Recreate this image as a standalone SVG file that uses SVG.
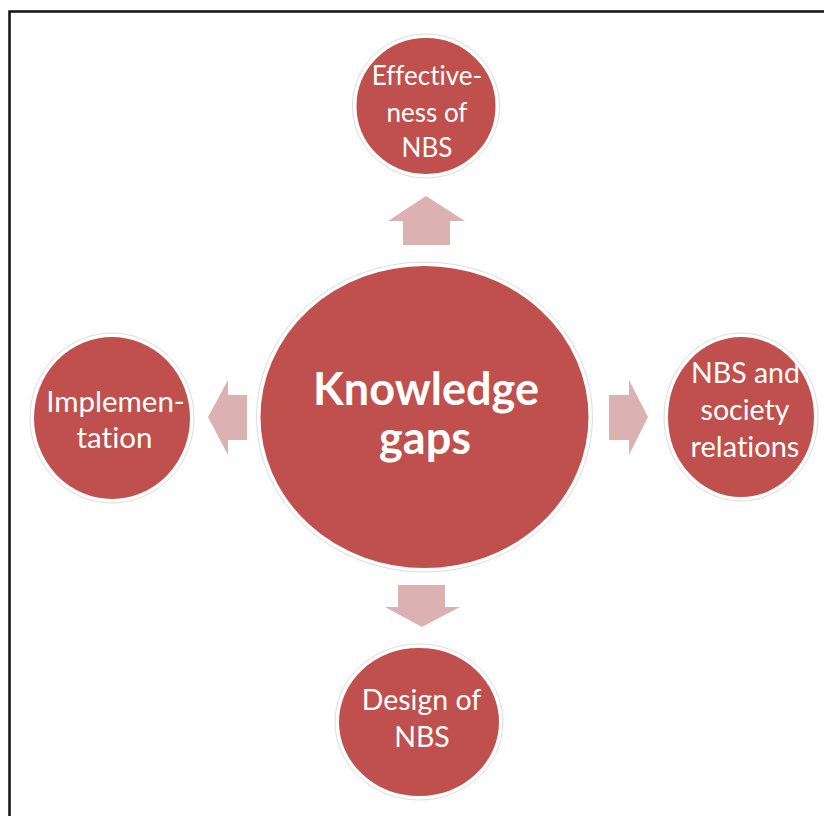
<svg xmlns="http://www.w3.org/2000/svg" width="824" height="816" viewBox="0 0 824 816">
<style>
.node{fill:#C0504D;stroke:#FFFFFF;stroke-width:3}
.halo{fill:none;stroke:#DCDCDC;stroke-width:1}
.arrow{fill:#DBB2B1}
.lbl{font-family:Lato,"Open Sans",sans-serif;font-size:26px;fill:#FFFFFF;text-anchor:middle;font-variant-ligatures:none}
.big{font-family:Lato,"Open Sans",sans-serif;font-size:45px;font-weight:bold;fill:#FFFFFF;text-anchor:middle;font-variant-ligatures:none}
</style>
<rect x="0" y="0" width="824" height="816" fill="#FFFFFF"/>
<path d="M9.5 816 V11.5 H824" fill="none" stroke="#111111" stroke-width="2.5"/>
<g id="connectors">
<polygon class="arrow" points="403,245 403,221 388,221 426,196 465,221 450,221 450,245"/>
<polygon class="arrow" points="247,395 228,395 228,380 208,417 228,455 228,440 247,440"/>
<polygon class="arrow" points="609,395 629,395 629,380 648,417 629,455 629,440 609,440"/>
<polygon class="arrow" points="398,585 445,585 445,607 460,607 422,627 385,607 398,607"/>
</g>
<g id="center">
<ellipse class="halo" cx="424.5" cy="417" rx="168" ry="155"/>
<ellipse class="node" cx="424.5" cy="417" rx="165.5" ry="152.5"/>
<text class="big" x="426" y="405">Knowledge</text>
<text class="big" x="425" y="454">gaps</text>
</g>
<g id="top">
<ellipse class="halo" cx="426" cy="106" rx="73.5" ry="72"/>
<ellipse class="node" cx="426" cy="106" rx="71" ry="69.5"/>
<text class="lbl" x="427" y="85">Effective-</text>
<text class="lbl" x="427" y="122">ness of</text>
<text class="lbl" x="427" y="157">NBS</text>
</g>
<g id="left">
<ellipse class="halo" cx="112" cy="418" rx="82" ry="85"/>
<ellipse class="node" cx="112" cy="418" rx="79.5" ry="82.5"/>
<text class="lbl" x="115.5" y="412" style="font-size:29.5px">Implemen-</text>
<text class="lbl" x="114.5" y="448" style="font-size:29.5px">tation</text>
</g>
<g id="right">
<ellipse class="halo" cx="741" cy="417" rx="77" ry="84"/>
<ellipse class="node" cx="741" cy="417" rx="74.5" ry="81.5"/>
<text class="lbl" x="745.5" y="383" style="font-size:28.5px">NBS and</text>
<text class="lbl" x="745" y="420" style="font-size:28.5px">society</text>
<text class="lbl" x="745" y="457" style="font-size:29px">relations</text>
</g>
<g id="bottom">
<ellipse class="halo" cx="419" cy="722" rx="84" ry="78"/>
<ellipse class="node" cx="419" cy="722" rx="81.5" ry="75.5"/>
<text class="lbl" x="421.5" y="710" style="font-size:28.5px">Design of</text>
<text class="lbl" x="422" y="747" style="font-size:28.5px">NBS</text>
</g>
</svg>
